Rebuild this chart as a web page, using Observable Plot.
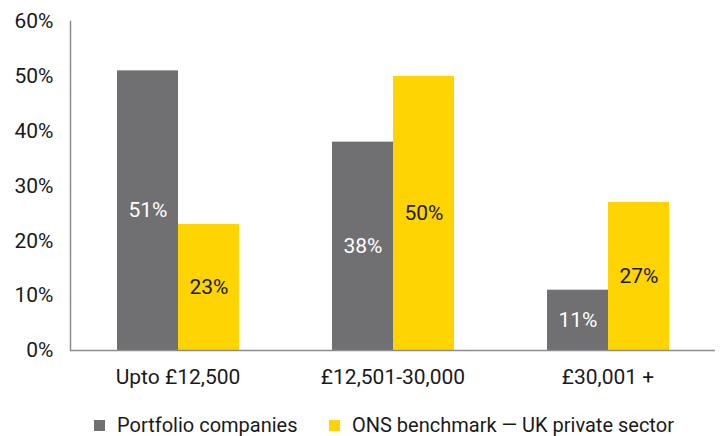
<!DOCTYPE html>
<html>
<head>
<meta charset="utf-8">
<script src="https://cdn.jsdelivr.net/npm/d3@7"></script>
<script src="https://cdn.jsdelivr.net/npm/@observablehq/plot@0.6"></script>
<style>
  html, body { margin: 0; padding: 0; background: #fff; }
  body { width: 724px; height: 436px; overflow: hidden; font-family: Roboto, sans-serif; position: relative; }
  #legend { font-size: 20px; color: #1a1a1a; }
  .item { display: flex; align-items: center; position: absolute; white-space: nowrap; line-height: 24px; }
  .sw { width: 11px; height: 11px; display: inline-block; margin-right: 12px; }
</style>
</head>
<body>
<div id="chart"></div>
<div id="legend"></div>
<script>
const categories = ["Upto £12,500", "£12,501-30,000", "£30,001 +"];
const series = ["Portfolio companies", "ONS benchmark — UK private sector"];
const portfolio = [51, 38, 11];
const ons = [23, 50, 27];
const yTicks = [0, 10, 20, 30, 40, 50, 60];
const colors = ["#707072", "#ffd400"];
const labelColors = ["#ffffff", "#1a1a1a"];

const data = [];
categories.forEach((c, i) => {
  data.push({category: c, series: series[0], value: portfolio[i]});
  data.push({category: c, series: series[1], value: ons[i]});
});

const plot = Plot.plot({
  width: 724,
  height: 400,
  marginLeft: 69,
  marginRight: 9,
  marginTop: 21,
  marginBottom: 50,
  style: {fontFamily: "Roboto, sans-serif", fontSize: "21px", color: "#1a1a1a", background: "#fff"},
  fx: {domain: categories, padding: 0, label: null, tickSize: 0, tickPadding: 19, axis: "bottom"},
  x: {domain: series, padding: 0, paddingOuter: 0.75, axis: null},
  y: {domain: [0, 60], ticks: yTicks, tickFormat: d => d + "%", tickSize: 0, tickPadding: 17, label: null},
  color: {domain: series, range: colors},
  marks: [
    Plot.barY(data, {fx: "category", x: "series", y: "value", fill: "series"}),
    Plot.text(data, {fx: "category", x: "series", y: d => d.value / 2, text: d => d.value + "%",
      fill: d => labelColors[series.indexOf(d.series)], fontSize: 21}),
    Plot.ruleY([0], {stroke: "#8c8c8c", strokeWidth: 1.5}),
    Plot.frame({anchor: "left", facetAnchor: "left", stroke: "#8c8c8c", strokeWidth: 1.5})
  ]
});
document.getElementById("chart").appendChild(plot);

const legend = document.getElementById("legend");
const positions = [94, 329];
series.forEach((s, i) => {
  const item = document.createElement("div");
  item.className = "item";
  item.style.left = positions[i] + "px";
  item.style.top = "413px";
  const sw = document.createElement("span");
  sw.className = "sw";
  sw.style.background = colors[i];
  const t = document.createElement("span");
  t.textContent = s;
  item.appendChild(sw);
  item.appendChild(t);
  legend.appendChild(item);
});
</script>
</body>
</html>
